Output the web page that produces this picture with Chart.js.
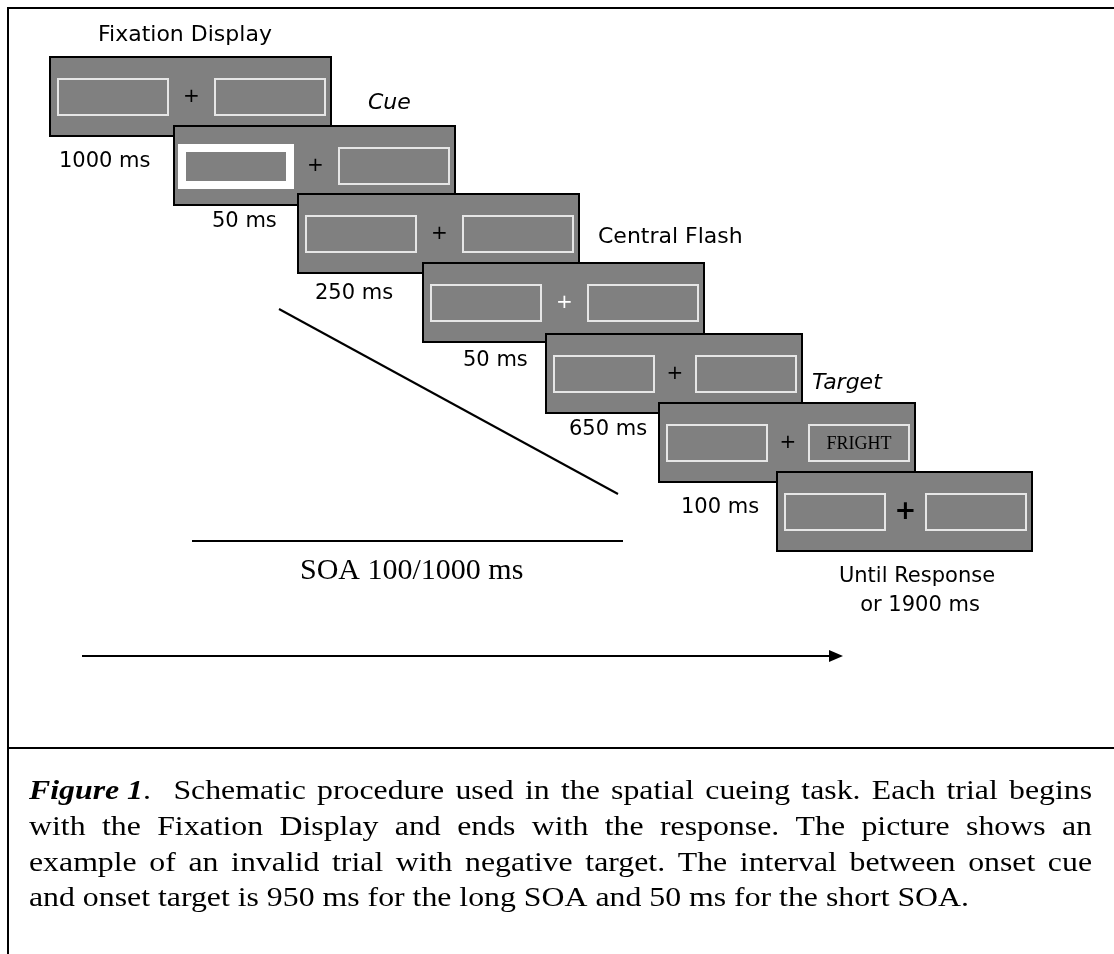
<!DOCTYPE html>
<html><head><meta charset="utf-8">
<script src="https://cdn.jsdelivr.net/npm/chart.js@4.4.1/dist/chart.umd.min.js"></script>
<style>html,body{margin:0;padding:0;background:#fff;overflow:hidden}canvas{display:block}</style>
</head><body>
<canvas id="c" width="1114" height="954"></canvas>
<script>
// ---------- data ----------
const frameKinds = ['fixation', 'cue', 'fixation', 'flash', 'fixation', 'target', 'response'];
const stageLabels = ['Fixation Display', 'Cue', 'Central Flash', 'Target'];
const stageItalic = [false, true, false, true];
const durationLabels = ['1000 ms', '50 ms', '250 ms', '50 ms', '650 ms', '100 ms'];
const finalLabel = ['Until Response', 'or 1900 ms'];
const targetWord = 'FRIGHT';
const soaLabel = 'SOA 100/1000 ms';
const captionLead = 'Figure 1';
const captionLines = [
  '.  Schematic procedure used in the spatial cueing task. Each trial begins',
  'with the Fixation Display and ends with the response. The picture shows an',
  'example of an invalid trial with negative target. The interval between onset cue',
  'and onset target is 950 ms for the long SOA and 50 ms for the short SOA.'
];

// ---------- layout (diagram units) ----------
const frameLeft = [49, 173, 297, 422, 545, 658, 776];
const frameTop = [56, 125, 193, 262, 333, 402, 471];
const frameW = [283, 283, 283, 283, 258, 258, 257];
const frameH = 81;
const stagePos = [[98, 41], [368, 109], [598, 243], [812, 389]];
const durPos = [[59, 167], [212, 227], [315, 299], [463, 366], [569, 435], [681, 513]];
const finalPos = [[917, 582], [920, 611]];

const sansFont = '"DejaVu Sans", Verdana, sans-serif';
const serifFont = '"Liberation Serif", "Times New Roman", serif';

const schematic = {
  id: 'schematic',
  afterDatasetsDraw(chart) {
    const { ctx, scales: { x, y } } = chart;
    const px = v => x.getPixelForValue(v);
    const py = v => y.getPixelForValue(v);
    ctx.save();

    // outer box
    ctx.strokeStyle = '#000';
    ctx.lineWidth = 2;
    ctx.beginPath();
    ctx.moveTo(px(8), py(954)); ctx.lineTo(px(8), py(8)); ctx.lineTo(px(1114), py(8));
    ctx.moveTo(px(8), py(748)); ctx.lineTo(px(1114), py(748));
    ctx.stroke();

    // frames
    frameKinds.forEach((kind, i) => {
      const L = px(frameLeft[i]), T = py(frameTop[i]);
      const W = px(frameLeft[i] + frameW[i]) - L, H = py(frameTop[i] + frameH) - T;
      ctx.fillStyle = '#808080';
      ctx.fillRect(L, T, W, H);
      ctx.strokeStyle = '#000';
      ctx.lineWidth = 2;
      ctx.strokeRect(L + 1, T + 1, W - 2, H - 2);
      const rw = Math.round(W * 0.396);
      const rT = T + 22, rH = 38;
      const lx = L + 8, rx = L + W - 6 - rw;
      ctx.strokeStyle = '#e6e6e6';
      ctx.lineWidth = 2;
      if (kind === 'cue') {
        ctx.strokeStyle = '#ffffff';
        ctx.lineWidth = 8;
        ctx.strokeRect(L + 9, T + 23, rw - 4, 37);
        ctx.strokeStyle = '#e6e6e6';
        ctx.lineWidth = 2;
      } else {
        ctx.strokeRect(lx + 1, rT + 1, rw - 2, rH - 2);
      }
      ctx.strokeRect(rx + 1, rT + 1, rw - 2, rH - 2);
      // fixation cross
      const cx = (lx + rw + rx) / 2, cy = T + 41;
      ctx.textAlign = 'center';
      ctx.textBaseline = 'middle';
      if (kind === 'response') {
        ctx.font = 'bold 26px ' + sansFont;
        ctx.fillStyle = '#000';
      } else {
        ctx.font = '20px ' + sansFont;
        ctx.fillStyle = kind === 'flash' ? '#ffffff' : '#000';
      }
      ctx.fillText('+', cx, cy);
      if (kind === 'target') {
        ctx.font = '18px ' + serifFont;
        ctx.fillStyle = '#000';
        ctx.fillText(targetWord, rx + rw / 2, rT + rH / 2 + 1);
      }
    });

    // labels
    ctx.fillStyle = '#000';
    ctx.textBaseline = 'alphabetic';
    ctx.textAlign = 'left';
    stageLabels.forEach((t, i) => {
      ctx.font = (stageItalic[i] ? 'italic ' : '') + '22px ' + sansFont;
      ctx.fillText(t, px(stagePos[i][0]), py(stagePos[i][1]));
    });
    ctx.font = '21px ' + sansFont;
    durationLabels.forEach((t, i) => ctx.fillText(t, px(durPos[i][0]), py(durPos[i][1])));
    ctx.textAlign = 'center';
    finalLabel.forEach((t, i) => ctx.fillText(t, px(finalPos[i][0]), py(finalPos[i][1])));

    // SOA label
    ctx.font = '30px ' + serifFont;
    ctx.textAlign = 'left';
    ctx.fillText(soaLabel, px(300), py(579));

    // arrow head
    ctx.beginPath();
    ctx.moveTo(px(843), py(656));
    ctx.lineTo(px(829), py(650));
    ctx.lineTo(px(829), py(662));
    ctx.closePath();
    ctx.fill();

    // caption (horizontally stretched serif, justified)
    const fs = 27;
    const regular = fs + 'px ' + serifFont;
    const leadFont = 'bold italic ' + fs + 'px ' + serifFont;
    ctx.font = regular;
    const sx = 940 / ctx.measureText(captionLines[3]).width;
    const left = 29, right = 1092;
    const base = [799, 835, 871, 906];
    ctx.textAlign = 'left';
    captionLines.forEach((line, li) => {
      ctx.save();
      ctx.translate(px(left), py(base[li]));
      ctx.scale(sx, 1);
      const avail = (px(right) - px(left)) / sx;
      const tokens = line.split(' ');
      let leadW = 0;
      if (li === 0) {
        ctx.font = leadFont;
        leadW = ctx.measureText(captionLead).width;
      }
      ctx.font = regular;
      const words = [];
      const gaps = [];
      let pending = 0;
      tokens.forEach(tk => {
        if (tk === '') { pending += 1; return; }
        if (words.length) gaps.push(1 + pending);
        pending = 0;
        words.push(tk);
      });
      const wordsW = words.reduce((s, w) => s + ctx.measureText(w).width, 0) + leadW;
      const gapUnits = gaps.reduce((s, g) => s + g, 0);
      const spaceW = ctx.measureText(' ').width;
      const sp = li < 3 ? (avail - wordsW) / gapUnits : spaceW;
      let cx = 0;
      if (li === 0) {
        ctx.font = leadFont;
        ctx.fillText(captionLead, 0, 0);
        cx = leadW;
        ctx.font = regular;
      }
      words.forEach((w, k) => {
        ctx.fillText(w, cx, 0);
        cx += ctx.measureText(w).width;
        if (k < gaps.length) cx += gaps[k] * sp;
      });
      ctx.restore();
    });

    ctx.restore();
  }
};

const lineStyle = { borderColor: '#000', borderWidth: 2, pointRadius: 0, showLine: true, fill: false, tension: 0 };
new Chart(document.getElementById('c'), {
  type: 'scatter',
  data: {
    datasets: [
      Object.assign({ label: 'SOA slant', data: [{ x: 279, y: 309 }, { x: 618, y: 494 }] }, lineStyle),
      Object.assign({ label: 'SOA span', data: [{ x: 192, y: 541 }, { x: 623, y: 541 }] }, lineStyle),
      Object.assign({ label: 'time', data: [{ x: 82, y: 656 }, { x: 832, y: 656 }] }, lineStyle)
    ]
  },
  options: {
    responsive: false,
    animation: false,
    events: [],
    layout: { padding: 0 },
    plugins: { legend: { display: false }, tooltip: { enabled: false } },
    scales: {
      x: { type: 'linear', min: 0, max: 1114, display: false },
      y: { type: 'linear', min: 0, max: 954, reverse: true, display: false }
    }
  },
  plugins: [schematic]
});
</script>
</body></html>
